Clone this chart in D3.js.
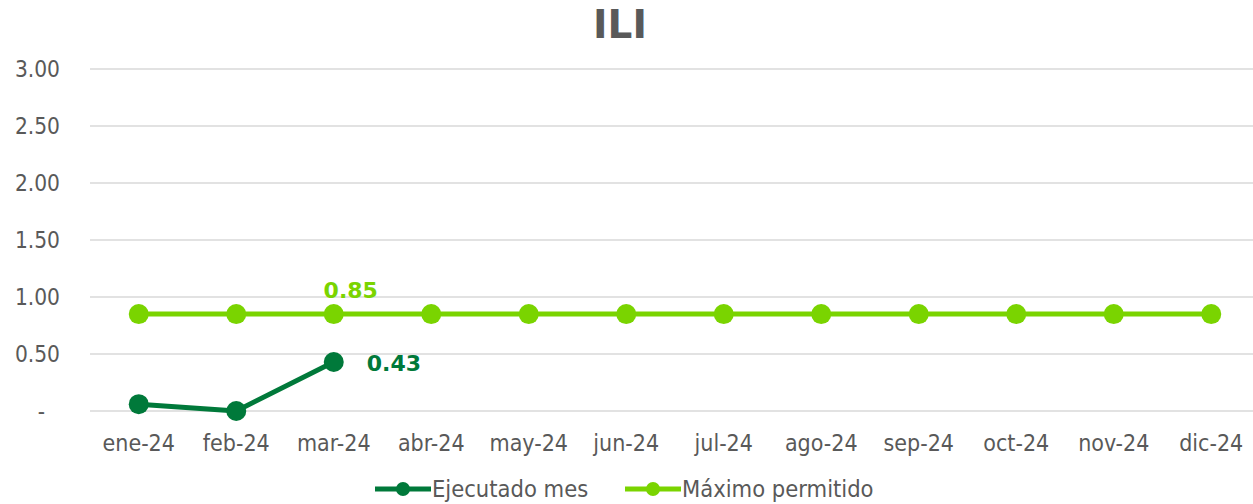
<!DOCTYPE html>
<html>
<head>
<meta charset="utf-8">
<script src="https://cdn.jsdelivr.net/npm/d3@7.9.0/dist/d3.min.js"></script>
<style>
  body { margin: 0; background: #fff; }
  svg { display: block; font-family: 'DejaVu Sans Condensed', 'DejaVu Sans', sans-serif; }
</style>
</head>
<body>
<svg id="chart" width="1253" height="504"></svg>
<script>
// chart data
const months = ['ene-24', 'feb-24', 'mar-24', 'abr-24', 'may-24', 'jun-24',
  'jul-24', 'ago-24', 'sep-24', 'oct-24', 'nov-24', 'dic-24'];
const ejecutado = [0.06, 0.00, 0.43];
const maximo = [0.85, 0.85, 0.85, 0.85, 0.85, 0.85, 0.85, 0.85, 0.85, 0.85, 0.85, 0.85];
const yTicks = [0, 0.5, 1, 1.5, 2, 2.5, 3];

const darkGreen = '#00793a';
const lightGreen = '#7ad400';

const svg = d3.select('#chart');
const margin = { left: 90, right: -7, top: 69, bottom: 93 };
const width = 1253, height = 504;

const x = d3.scaleBand()
  .domain(months)
  .range([margin.left, width - margin.right]);

const y = d3.scaleLinear()
  .domain([0, 3])
  .range([height - margin.bottom, margin.top]);

const cx = d => x(d) + x.bandwidth() / 2;

// title
svg.append('text')
  .attr('x', 620)
  .attr('y', 38)
  .attr('text-anchor', 'middle')
  .attr('font-family', 'DejaVu Sans')
  .attr('font-weight', 'bold')
  .attr('font-size', 39)
  .attr('fill', '#595959')
  .text('ILI');

// gridlines
svg.append('g')
  .selectAll('line')
  .data(yTicks)
  .join('line')
  .attr('x1', margin.left)
  .attr('x2', width)
  .attr('y1', d => y(d))
  .attr('y2', d => y(d))
  .attr('stroke', '#d9d9d9')
  .attr('stroke-width', 1.5);

// y labels
svg.append('g')
  .selectAll('text')
  .data(yTicks)
  .join('text')
  .attr('x', d => d === 0 ? 45 : 60)
  .attr('y', d => y(d) + 8)
  .attr('text-anchor', 'end')
  .attr('font-size', 22.5)
  .attr('fill', '#595959')
  .text(d => d === 0 ? '-' : d3.format('.2f')(d));

// x labels
svg.append('g')
  .selectAll('text')
  .data(months)
  .join('text')
  .attr('x', d => cx(d))
  .attr('y', 451)
  .attr('text-anchor', 'middle')
  .attr('font-size', 23)
  .attr('fill', '#595959')
  .text(d => d);

const line = d3.line()
  .x((d, i) => cx(months[i]))
  .y(d => y(d));

function drawSeries(values, color) {
  svg.append('path')
    .datum(values)
    .attr('d', line)
    .attr('fill', 'none')
    .attr('stroke', color)
    .attr('stroke-width', 5)
    .attr('stroke-linejoin', 'round');
  svg.append('g')
    .selectAll('circle')
    .data(values)
    .join('circle')
    .attr('cx', (d, i) => cx(months[i]))
    .attr('cy', d => y(d))
    .attr('r', 10)
    .attr('fill', color);
}

drawSeries(maximo, lightGreen);
drawSeries(ejecutado, darkGreen);

// data labels
svg.append('text')
  .attr('x', cx(months[2]) + 17)
  .attr('y', y(maximo[2]) - 16)
  .attr('text-anchor', 'middle')
  .attr('font-family', 'DejaVu Sans')
  .attr('font-weight', 'bold')
  .attr('font-size', 22)
  .attr('fill', lightGreen)
  .text(d3.format('.2f')(maximo[2]));

svg.append('text')
  .attr('x', cx(months[2]) + 33)
  .attr('y', y(ejecutado[2]) + 9)
  .attr('font-family', 'DejaVu Sans')
  .attr('font-weight', 'bold')
  .attr('font-size', 22)
  .attr('fill', darkGreen)
  .text(d3.format('.2f')(ejecutado[2]));

// legend
const legendItems = [
  { name: 'Ejecutado mes', color: darkGreen, x: 375 },
  { name: 'Máximo permitido', color: lightGreen, x: 625 }
];
const lg = svg.append('g')
  .selectAll('g')
  .data(legendItems)
  .join('g')
  .attr('transform', d => `translate(${d.x},489)`);
lg.append('line')
  .attr('x1', 0).attr('x2', 56)
  .attr('stroke', d => d.color)
  .attr('stroke-width', 5);
lg.append('circle')
  .attr('cx', 28).attr('r', 7)
  .attr('fill', d => d.color);
lg.append('text')
  .attr('x', 57)
  .attr('y', 8)
  .attr('font-size', 23.5)
  .attr('fill', '#595959')
  .text(d => d.name);
</script>
</body>
</html>
